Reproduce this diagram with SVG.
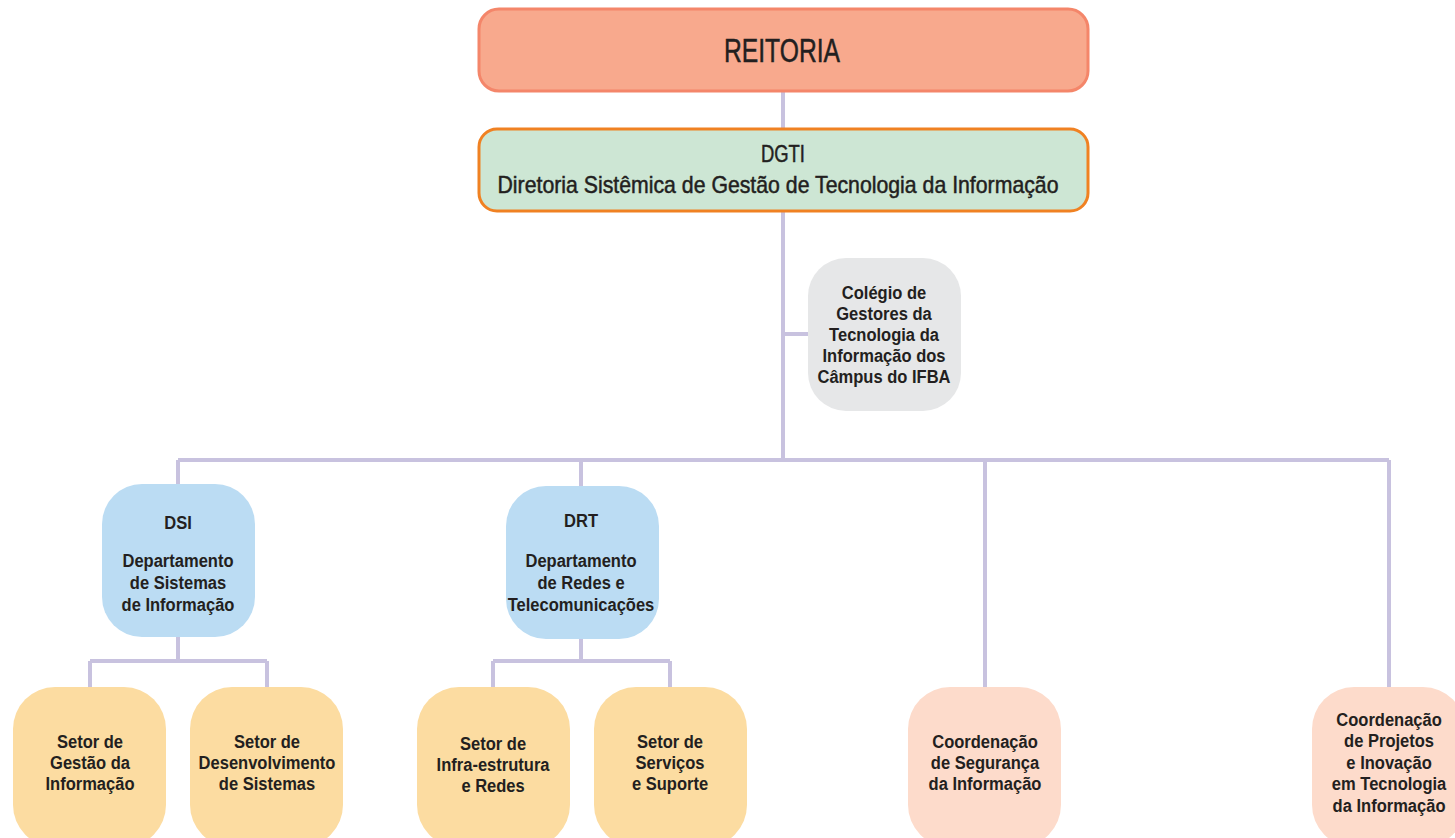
<svg xmlns="http://www.w3.org/2000/svg" width="1455" height="838" viewBox="0 0 1455 838">
<style>
.t{font-family:"Liberation Sans",Arial,sans-serif;fill:#231f20;text-anchor:middle}
.m{stroke:#231f20;stroke-width:0.5}
.s{font-size:19px;font-weight:bold;transform-box:fill-box;transform-origin:center;transform:scaleX(0.87)}
.c{stroke:#c8c2df;stroke-width:4;fill:none}
.nb{fill:#bbdcf3}
.ny{fill:#fcdca1}
.np{fill:#fddbcb}
.ng{fill:#e6e7e8}
</style>
<rect width="1455" height="838" fill="#ffffff"/>
<g id="connectors">
<path class="c" d="M783 91V128M783 211V460M783 334H808M178 460H1389M178 460V484M581 460V486M985 460V687M1389 460V687"/>
<path class="c" d="M178 637V661M90 661H267M90 661V687M267 661V687"/>
<path class="c" d="M581 639V661M493 661H670M493 661V687M670 661V687"/>
</g>
<g id="reitoria">
<rect x="479" y="9" width="609" height="82" rx="20" fill="#f8a98d" stroke="#f4866a" stroke-width="3"/>
<text class="t m" x="782" y="62" font-size="33" textLength="116" lengthAdjust="spacingAndGlyphs">REITORIA</text>
</g>
<g id="dgti">
<rect x="479" y="129" width="609" height="82" rx="18" fill="#cde6d4" stroke="#f08122" stroke-width="3"/>
<text class="t m" x="783" y="162" font-size="23" textLength="44" lengthAdjust="spacingAndGlyphs">DGTI</text>
<text class="t m" x="778" y="193" font-size="24" textLength="561" lengthAdjust="spacingAndGlyphs">Diretoria Sistêmica de Gestão de Tecnologia da Informação</text>
</g>
<g id="colegio">
<rect x="808" y="258" width="153" height="153" rx="38" class="ng"/>
<text class="t s"><tspan x="884" y="299">Colégio de</tspan><tspan x="884" y="320">Gestores da</tspan><tspan x="884" y="341">Tecnologia da</tspan><tspan x="884" y="362">Informação dos</tspan><tspan x="884" y="383">Câmpus do IFBA</tspan></text>
</g>
<g id="dsi">
<rect x="102" y="484" width="153" height="153" rx="40" class="nb"/>
<text class="t s"><tspan x="178" y="529">DSI</tspan><tspan x="178" y="567">Departamento</tspan><tspan x="178" y="589">de Sistemas</tspan><tspan x="178" y="611">de Informação</tspan></text>
</g>
<g id="drt">
<rect x="506" y="486" width="153" height="153" rx="40" class="nb"/>
<text class="t s"><tspan x="581" y="527">DRT</tspan><tspan x="581" y="567">Departamento</tspan><tspan x="581" y="589">de Redes e</tspan><tspan x="581" y="611">Telecomunicações</tspan></text>
</g>
<g id="setor-gestao">
<rect x="13" y="687" width="153" height="160" rx="42" class="ny"/>
<text class="t s"><tspan x="90" y="748">Setor de</tspan><tspan x="90" y="769">Gestão da</tspan><tspan x="90" y="790">Informação</tspan></text>
</g>
<g id="setor-desenvolvimento">
<rect x="190" y="687" width="153" height="160" rx="42" class="ny"/>
<text class="t s"><tspan x="267" y="748">Setor de</tspan><tspan x="267" y="769">Desenvolvimento</tspan><tspan x="267" y="790">de Sistemas</tspan></text>
</g>
<g id="setor-infra">
<rect x="417" y="687" width="153" height="160" rx="42" class="ny"/>
<text class="t s"><tspan x="493" y="750">Setor de</tspan><tspan x="493" y="771">Infra-estrutura</tspan><tspan x="493" y="792">e Redes</tspan></text>
</g>
<g id="setor-servicos">
<rect x="594" y="687" width="153" height="160" rx="42" class="ny"/>
<text class="t s"><tspan x="670" y="748">Setor de</tspan><tspan x="670" y="769">Serviços</tspan><tspan x="670" y="790">e Suporte</tspan></text>
</g>
<g id="coord-seguranca">
<rect x="908" y="687" width="153" height="160" rx="42" class="np"/>
<text class="t s"><tspan x="985" y="748">Coordenação</tspan><tspan x="985" y="769">de Segurança</tspan><tspan x="985" y="790">da Informação</tspan></text>
</g>
<g id="coord-projetos">
<rect x="1312" y="687" width="153" height="160" rx="42" class="np"/>
<text class="t s"><tspan x="1389" y="726">Coordenação</tspan><tspan x="1389" y="747">de Projetos</tspan><tspan x="1389" y="769">e Inovação</tspan><tspan x="1389" y="790">em Tecnologia</tspan><tspan x="1389" y="812">da Informação</tspan></text>
</g>
</svg>
